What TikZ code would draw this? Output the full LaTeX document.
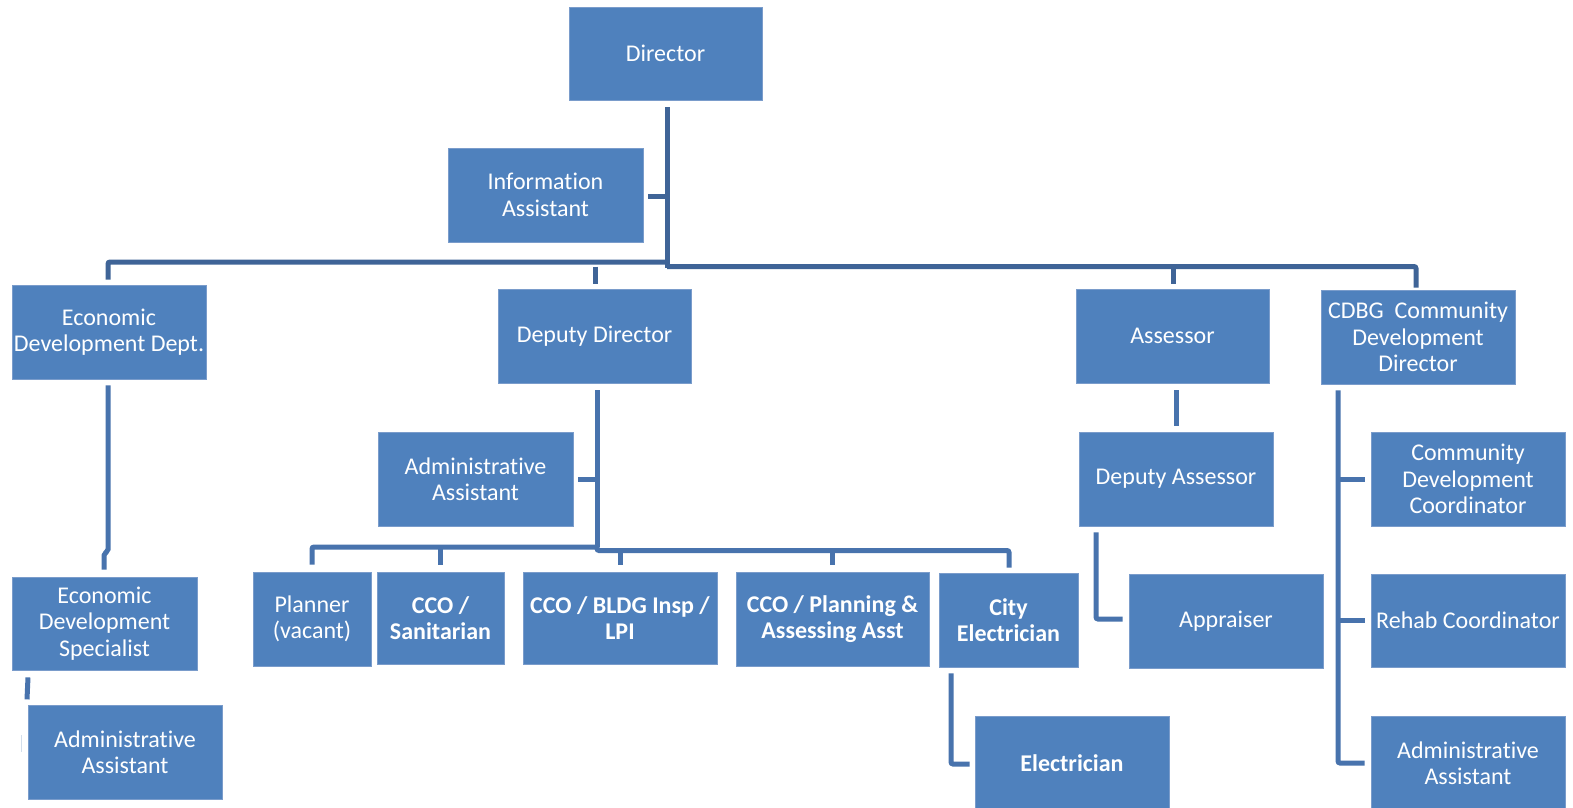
\documentclass[tikz,border=0pt]{standalone}
\usepackage{fontspec}
\setmainfont{Carlito}[Ligatures=NoCommon]
\usetikzlibrary{calc}
\definecolor{boxblue}{HTML}{4F81BD}
\definecolor{boxedge}{HTML}{7A9CCB}
\definecolor{topline}{HTML}{3F6497}
\definecolor{subline}{HTML}{4873AD}
\definecolor{faint}{HTML}{D3DEEB}
\tikzset{
  orgbox/.style={fill=boxblue, draw=boxedge, line width=0.8pt, text=white, align=center,
    inner sep=0pt, font=\fontsize{24}{26.5}\selectfont},
  bx/.style 2 args={orgbox, minimum width=#1pt, minimum height=#2pt},
  boldtxt/.style={font=\fontsize{24}{26.5}\selectfont\bfseries},
  conn/.style={draw=subline, line width=5pt, rounded corners=2pt},
  topconn/.style={draw=topline, line width=5pt, rounded corners=2pt},
}
\begin{document}
\begin{tikzpicture}[x=1pt,y=-1pt]
\useasboundingbox (0,0) rectangle (1573,807);
\fill[white] (0,0) rectangle (1573,807);

% top level
\node[bx={193}{93}] (dir) at (665.5,53.5) {Director};
\node[bx={195}{94}] (info) at (545.5,195) {Information\\Assistant};

% second level
\node[bx={194}{94}] (edd) at (109,332) {Economic\\Development Dept.};
\node[bx={193}{94}] (dd) at (594.5,336) {Deputy Director};
\node[bx={193}{94}] (ass) at (1172.5,336) {Assessor};
\node[bx={194}{94}] (cdbg) at (1418,337) {CDBG\ \ Community\\Development\\Director};

% economic development branch
\node[bx={185}{93}] (eds) at (104.5,623.5) {Economic\\Development\\Specialist};
\node[bx={194}{94}] (edaa) at (125,752) {Administrative\\Assistant};

% deputy director branch
\node[bx={195}{94}] (ddaa) at (475.5,479) {Administrative\\Assistant};
\node[bx={118}{94}] (plan) at (312,619) {Planner\\(vacant)};
\node[bx={127}{92},boldtxt] (san) at (440.5,618) {CCO /\\Sanitarian};
\node[bx={194}{92},boldtxt] (bldg) at (620,618) {CCO / BLDG Insp /\\LPI};
\node[bx={193}{94},boldtxt] (cpa) at (832.5,619) {CCO / Planning \&\\Assessing Asst};
\node[bx={139}{94},boldtxt] (cityel) at (1008.5,620) {City\\Electrician};
\node[bx={194}{94},boldtxt] (elec) at (1072,763) {Electrician};

% assessor branch
\node[bx={194}{94}] (dass) at (1176,479) {Deputy Assessor};
\node[bx={194}{94}] (appr) at (1226,621) {Appraiser};

% CDBG branch
\node[bx={194}{94}] (cdc) at (1468,479) {Community\\Development\\Coordinator};
\node[bx={194}{93}] (rehab) at (1468,620.5) {Rehab Coordinator};
\node[bx={194}{94}] (cdaa) at (1468,763) {Administrative\\Assistant};

% junction coordinates
\coordinate (jdir) at (667,262);
\coordinate (jbus) at (667,266.5);
\coordinate (jdd) at (597,547);
\coordinate (jddb) at (597,550.5);

% director connectors
\draw[topconn] ($(dir.south)+(1.5,7)$) -- ($(dir.south)+(1.5,168)$);
\draw[topconn] ($(info.east)+(5,1)$) -- ($(info.east)+(24,1)$);
\draw[topconn] ($(edd.north)+(-1,-5)$) |- (jdir);
\draw[topconn] (jbus) -| ($(cdbg.north)+(-2,-2)$);
\draw[topconn] ($(dd.north)+(0.5,-22)$) -- ($(dd.north)+(0.5,-5)$);
\draw[topconn] ($(ass.north)+(0.5,-22)$) -- ($(ass.north)+(0.5,-5)$);

% economic development connectors
\draw[conn] ($(edd.south)+(-1,6)$) -- ($(edd.south)+(-1,172)$) -- ($(edd.south)+(-5,174)$) -- ($(eds.north)+(-0.5,-7)$);
\draw[conn, rounded corners=0pt] ($(eds.south)+(-76.5,7)$) -- ($(eds.south)+(-77.5,29)$);
\draw[faint, line width=1.5pt] ($(edaa.west)+(-6,-17)$) -- ($(edaa.west)+(-6,0)$);

% deputy director connectors
\draw[conn] ($(dd.south)+(2.5,7)$) -- (jdd);
\draw[conn] ($(ddaa.east)+(5,0)$) -- ($(ddaa.east)+(24,0)$);
\draw[conn] (jdd) -| ($(plan.north)+(0,-7)$);
\draw[conn] ($(san.north)+(-0.5,-25)$) -- ($(san.north)+(-0.5,-7)$);
\draw[conn] (jdd) -- ++(0,3.5) -| ($(cityel.north)+(0.5,-5)$);
\draw[conn] ($(bldg.north)+(0,-22)$) -- ($(bldg.north)+(0,-7)$);
\draw[conn] ($(cpa.north)+(-0.5,-22)$) -- ($(cpa.north)+(-0.5,-7)$);
\draw[conn] ($(cityel.south)+(-57.5,6)$) |- ($(elec.west)+(-5,1)$);

% assessor connectors
\draw[conn] ($(ass.south)+(3.5,7)$) -- ($(ass.south)+(3.5,43)$);
\draw[conn] ($(dass.south)+(-80,6)$) |- ($(appr.west)+(-6,-2)$);

% CDBG connectors
\draw[conn] ($(cdbg.south)+(-80,6)$) |- ($(cdaa.west)+(-6,0)$);
\draw[conn] ($(cdc.west)+(-33,0)$) -- ($(cdc.west)+(-6,0)$);
\draw[conn] ($(rehab.west)+(-33,-0.5)$) -- ($(rehab.west)+(-6,-0.5)$);
\end{tikzpicture}
\end{document}
